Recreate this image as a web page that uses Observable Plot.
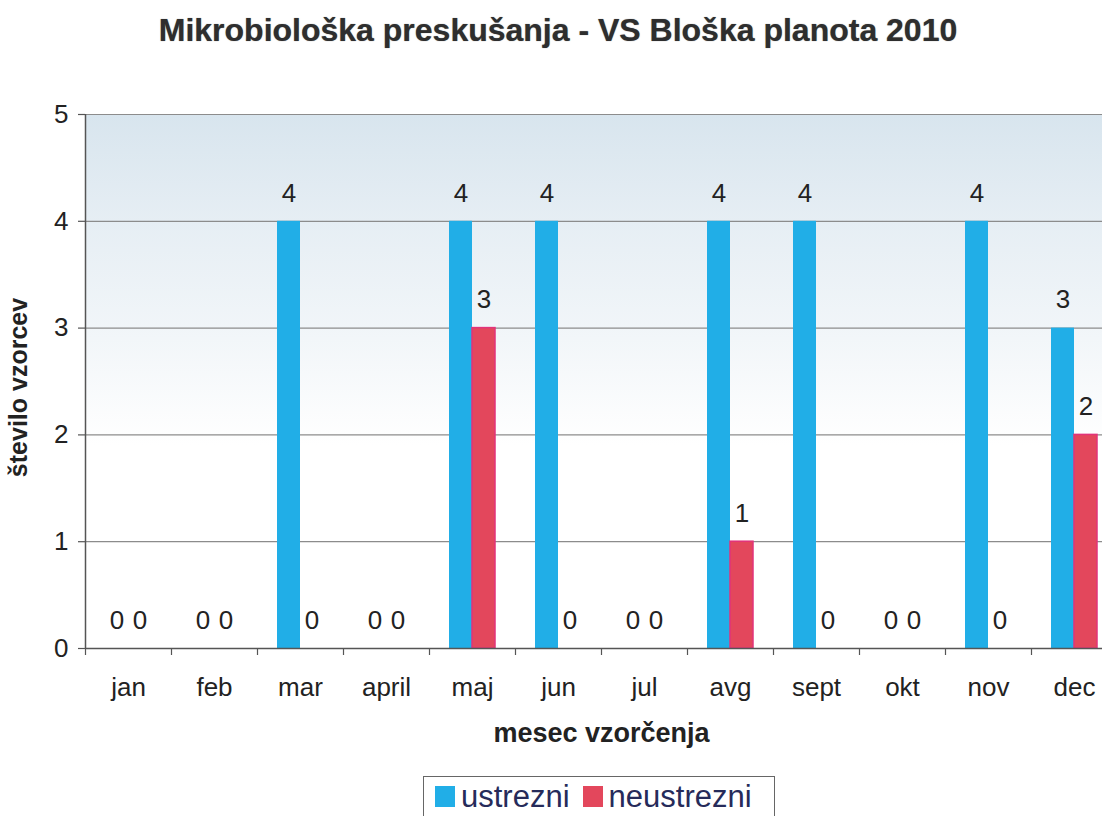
<!DOCTYPE html>
<html>
<head>
<meta charset="utf-8">
<script src="https://cdn.jsdelivr.net/npm/d3@7"></script>
<script src="https://cdn.jsdelivr.net/npm/@observablehq/plot@0.6"></script>
<style>
  html, body { margin: 0; padding: 0; background: #fff; overflow: hidden; width: 1102px; height: 816px; }
  #wrap { position: relative; width: 1102px; height: 816px; overflow: hidden; font-family: "Liberation Sans", Arial, sans-serif; }
  #title { position: absolute; left: 0; top: 12px; width: 1116px; text-align: center; font-weight: bold; font-size: 32px; line-height: 36px; color: #2e2e2e; text-shadow: 0 0 1px #777; }
  #chart { position: absolute; left: 0; top: 60px; width: 1130px; }
  #chart svg { max-width: none !important; }
  #legend { position: absolute; left: 423px; top: 776px; width: 352px; height: 42px; border: 1.5px solid #666; border-bottom: none; box-sizing: border-box; display: flex; align-items: flex-start; padding: 6px 0 0 11px; font-size: 31px; color: #262b5a; line-height: 28px; }
  #legend .sw { display: inline-block; width: 20px; height: 21px; margin: 3px 6px 0 0; }
  #legend .item { display: flex; align-items: flex-start; margin-right: 13px; }
</style>
</head>
<body>
<div id="wrap">
  <div id="title">Mikrobiološka preskušanja - VS Bloška planota 2010</div>
  <div id="chart"></div>
  <div id="legend"></div>
</div>
<script>
const months = ["jan", "feb", "mar", "april", "maj", "jun", "jul", "avg", "sept", "okt", "nov", "dec"];
const ustrezni = [0, 0, 4, 0, 4, 4, 0, 4, 4, 0, 4, 3];
const neustrezni = [0, 0, 0, 0, 3, 0, 0, 1, 0, 0, 0, 2];
const yTicks = [0, 1, 2, 3, 4, 5];
const seriesNames = ["ustrezni", "neustrezni"];
const seriesColors = ["#21aee7", "#e3475c"];
const xTitle = "mesec vzorčenja";
const yTitle = "število vzorcev";

const rows = months.map((m, i) => ({month: m, u: ustrezni[i], n: neustrezni[i]}));

const plot = Plot.plot({
  width: 1130,
  height: 710,
  marginLeft: 85,
  marginRight: 13,
  marginTop: 54,
  marginBottom: 122,
  style: {fontFamily: "'Liberation Sans', Arial, sans-serif", fontSize: "26px", color: "#222", background: "transparent", maxWidth: "none"},
  x: {domain: months, padding: 0, axis: null, label: null},
  y: {domain: [0, 5], axis: null, label: null},
  marks: [
    Plot.frame({fill: "url(#bgGrad)", stroke: "none"}),
    Plot.ruleY(yTicks.slice(1), {stroke: "#8c8c8c", strokeWidth: 1.2}),
    Plot.barY(rows, {x: "month", y: "u", insetLeft: 20, insetRight: 43, fill: seriesColors[0]}),
    Plot.barY(rows, {x: "month", y: "n", insetLeft: 43, insetRight: 20, fill: seriesColors[1], stroke: "#e2337a", strokeWidth: 1.5}),
    Plot.ruleX([months[0]], {dx: -43, stroke: "#555", strokeWidth: 1.5}),
    Plot.ruleY([0], {stroke: "#555", strokeWidth: 1.5}),
    Plot.axisX(months, {tickSize: 7, dx: -43, tickFormat: () => "", label: null, stroke: "#555", strokeWidth: 1.2}),
    Plot.axisY(yTicks, {tickSize: 7, tickPadding: 10, fontSize: 26, label: null, tickFormat: d => String(d), stroke: "#555", strokeWidth: 1.2, fill: "#222"}),
    Plot.text(months, {x: d => d, frameAnchor: "bottom", dy: 39, fontSize: 26, fill: "#222", textAnchor: "middle", lineAnchor: "middle"}),
    Plot.text([xTitle], {frameAnchor: "bottom", dy: 85, fontSize: 27, fontWeight: "bold", fill: "#222", textAnchor: "middle", lineAnchor: "middle"}),
    Plot.text([yTitle], {frameAnchor: "left", dx: -67, dy: 6, rotate: -90, fontSize: 25, fontWeight: "bold", fill: "#222", textAnchor: "middle", lineAnchor: "middle"}),
    Plot.text(rows, {x: "month", y: "u", text: d => String(d.u), dx: -11.5, dy: -28, fontSize: 26, fill: "#222", lineAnchor: "middle"}),
    Plot.text(rows, {x: "month", y: "n", text: d => String(d.n), dx: 11.5, dy: -28, fontSize: 26, fill: "#222", lineAnchor: "middle"})
  ]
});

// gradient definition for the plot background
const ns = "http://www.w3.org/2000/svg";
const defs = document.createElementNS(ns, "defs");
defs.innerHTML = `<linearGradient id="bgGrad" x1="0" y1="0" x2="0" y2="1">
  <stop offset="0%" stop-color="#d8e5ee"/>
  <stop offset="20%" stop-color="#e6eef4"/>
  <stop offset="42%" stop-color="#f2f6f9"/>
  <stop offset="62%" stop-color="#ffffff"/>
  <stop offset="100%" stop-color="#ffffff"/>
</linearGradient>`;
plot.insertBefore(defs, plot.firstChild);
document.getElementById("chart").appendChild(plot);

const legend = document.getElementById("legend");
seriesNames.forEach((name, i) => {
  const item = document.createElement("div");
  item.className = "item";
  const sw = document.createElement("span");
  sw.className = "sw";
  sw.style.background = seriesColors[i];
  item.appendChild(sw);
  item.appendChild(document.createTextNode(name));
  legend.appendChild(item);
});
</script>
</body>
</html>
